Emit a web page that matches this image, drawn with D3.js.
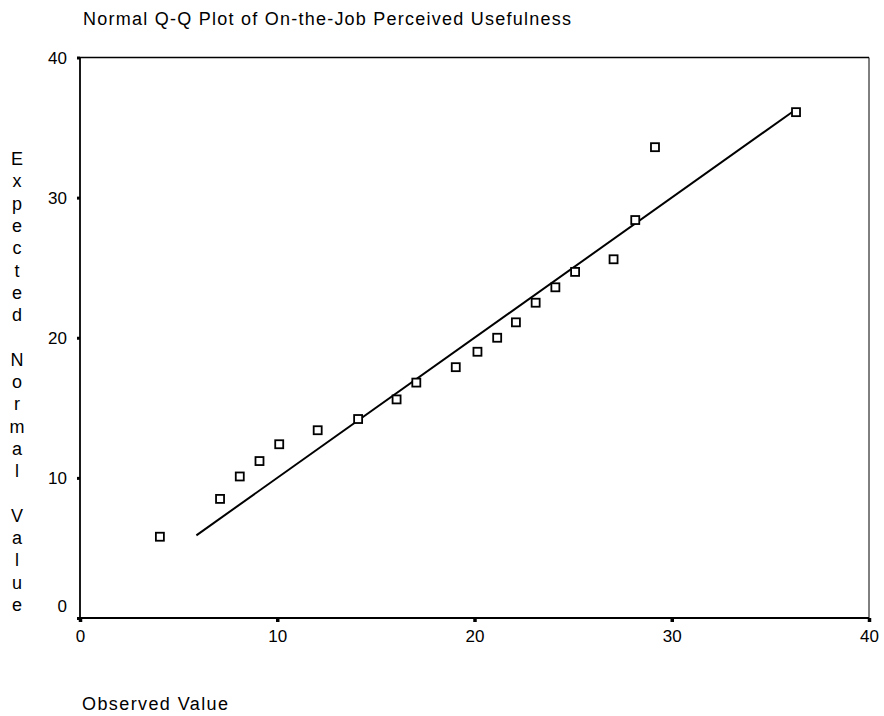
<!DOCTYPE html>
<html><head><meta charset="utf-8">
<script src="https://cdn.jsdelivr.net/npm/d3@7"></script>
<style>body{margin:0;background:#fff}svg{display:block}</style>
</head><body><svg id="c" width="884" height="716"></svg>
<script>
const observed = [4.05,7.1,8.1,9.1,10.1,12.05,14.1,16.05,17.05,19.05,20.15,21.15,22.1,23.1,24.1,25.1,27.05,28.15,29.15,36.3];
const expected = [5.8,8.5,10.1,11.2,12.4,13.4,14.2,15.6,16.8,17.9,19.0,20.0,21.1,22.5,23.6,24.7,25.6,28.4,33.6,36.1];
const refLine = [5.9, 36.2];
const xTicks = [0,10,20,30,40];
const yTicks = [0,10,20,30,40];
const titleText = "Normal Q-Q Plot of On-the-Job Perceived Usefulness";
const xTitle = "Observed Value";
const yTitle = "Expected Normal Value";

const svg = d3.select("#c");
const font = "'Liberation Sans', Arial, sans-serif";
const x = d3.scaleLinear().domain([0,40]).range([80,869]);
const y = d3.scaleLinear().domain([0,40]).range([618,57.5]);

// title
svg.append("text").attr("x",83).attr("y",25).attr("font-family",font).attr("font-size",18)
  .attr("textLength",488).attr("lengthAdjust","spacing").text(titleText);

// frame
const g = svg.append("g");
g.append("line").attr("x1",x(0)).attr("x2",x(40)).attr("y1",y(40)).attr("y2",y(40)).attr("stroke","#000").attr("stroke-width",1.5);
g.append("line").attr("x1",x(40)).attr("x2",x(40)).attr("y1",y(40)).attr("y2",y(0)).attr("stroke","#000").attr("stroke-width",1);
g.append("line").attr("x1",x(0)).attr("x2",x(0)).attr("y1",y(40)).attr("y2",y(0)).attr("stroke","#000").attr("stroke-width",1.8);
g.append("line").attr("x1",x(0)).attr("x2",x(40)).attr("y1",y(0)).attr("y2",y(0)).attr("stroke","#000").attr("stroke-width",2.2);

// axes
const xAxis = svg.append("g").attr("transform",`translate(0,${y(0)})`)
  .call(d3.axisBottom(x).tickValues(xTicks).tickSize(4).tickPadding(8).tickFormat(d3.format("d")));
xAxis.select(".domain").remove();
xAxis.selectAll(".tick line").attr("stroke","#000").attr("stroke-width",3.5);
xAxis.selectAll("text").attr("font-family",font).attr("font-size",17).attr("fill","#000");

const yAxis = svg.append("g").attr("transform",`translate(${x(0)},0)`)
  .call(d3.axisLeft(y).tickValues(yTicks).tickSize(3).tickPadding(10).tickFormat(d3.format("d")));
yAxis.select(".domain").remove();
yAxis.selectAll(".tick line").attr("stroke","#000").attr("stroke-width",3);
yAxis.selectAll("text").attr("font-family",font).attr("font-size",17).attr("fill","#000")
  .attr("dy", d => d === 0 ? "-0.4em" : "0.35em");

// axis titles
svg.append("text").attr("x",82).attr("y",710).attr("font-family",font).attr("font-size",18)
  .attr("textLength",146).attr("lengthAdjust","spacing").text(xTitle);
const yt = svg.append("text").attr("font-family",font).attr("font-size",18).attr("text-anchor","middle");
yTitle.split("").forEach((ch,i) => {
  yt.append("tspan").attr("x",17).attr("y",165 + i*22.3).text(ch === " " ? "\u00a0" : ch);
});

// reference line (y = x)
svg.append("line").attr("x1",x(refLine[0])).attr("y1",y(refLine[0]))
  .attr("x2",x(refLine[1])).attr("y2",y(refLine[1])).attr("stroke","#000").attr("stroke-width",2);

// points
const data = observed.map((v,i)=>({o:v,e:expected[i]}));
svg.append("g").selectAll("rect").data(data).join("rect")
  .attr("x",d=>x(d.o)-4).attr("y",d=>y(d.e)-4).attr("width",8).attr("height",8)
  .attr("fill","#fff").attr("stroke","#000").attr("stroke-width",1.8);
</script></body></html>
